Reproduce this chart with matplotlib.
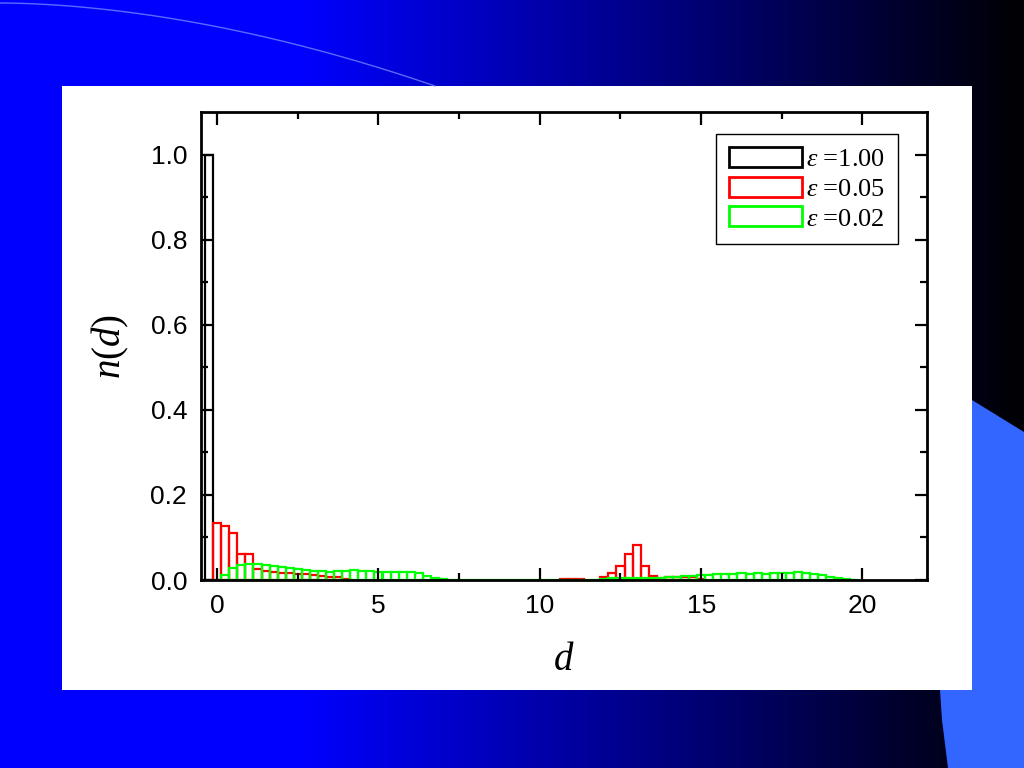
import numpy as np
import matplotlib
matplotlib.use('Agg')
import matplotlib.pyplot as plt
from matplotlib.patches import Rectangle, Polygon

plt.rcParams['mathtext.fontset'] = 'custom'
plt.rcParams['mathtext.it'] = 'Liberation Serif:italic'
plt.rcParams['mathtext.rm'] = 'Liberation Serif'

# Data (bin width 0.25)
black_d = [-0.25]
black_n = [1.0]

red_d = [0.0, 0.25, 0.5, 0.75, 1.0, 1.25, 1.5, 1.75, 2.0, 2.25, 2.5, 2.75, 3.0,
         3.25, 3.5, 3.75, 4.0,
         10.75, 11.0, 11.25,
         12.0, 12.25, 12.5, 12.75, 13.0, 13.25, 13.5, 13.75, 14.0, 14.25, 14.5,
         14.75, 15.0]
red_n = [0.135, 0.128, 0.110, 0.060, 0.060, 0.025, 0.020, 0.018, 0.017, 0.016,
         0.015, 0.013, 0.012, 0.010, 0.008, 0.006, 0.003,
         0.003, 0.003, 0.003,
         0.006, 0.016, 0.033, 0.061, 0.083, 0.033, 0.010, 0.004, 0.006, 0.008,
         0.008, 0.006, 0.003]

green_d = np.arange(0.25, 20.0, 0.25)
green_n = [0.012, 0.028, 0.035, 0.038, 0.038, 0.035, 0.032, 0.030, 0.028, 0.026,
           0.024, 0.022, 0.020, 0.019, 0.020, 0.022, 0.023, 0.022, 0.020, 0.019,
           0.018, 0.018, 0.019, 0.018, 0.016, 0.010, 0.004,
           0.002, 0.001,
           0.001, 0.001, 0.001, 0.001, 0.001, 0.001, 0.001, 0.001, 0.001,
           0.001, 0.001, 0.001, 0.001, 0.001, 0.001, 0.001, 0.001, 0.001,
           0.003, 0.004, 0.004, 0.005, 0.004, 0.005, 0.005, 0.005, 0.006,
           0.008, 0.010, 0.010, 0.011, 0.012, 0.013, 0.014, 0.015, 0.016,
           0.015, 0.016, 0.015, 0.016, 0.017, 0.016, 0.018, 0.016, 0.014,
           0.011, 0.008, 0.005, 0.003, 0.001]

x_ticks = [0, 5, 10, 15, 20]
y_ticks = [0.0, 0.2, 0.4, 0.6, 0.8, 1.0]

fig = plt.figure(figsize=(10.24, 7.68), dpi=100)

# slide background
bg = fig.add_axes([0, 0, 1, 1], zorder=0)
bg.set_xlim(0, 1024)
bg.set_ylim(768, 0)
bg.axis('off')
xs = np.arange(1024)
blue = np.clip(255 - np.clip(xs - 300, 0, None) * (245 / 700), 5, 255)
grad = np.zeros((2, 1024, 3))
grad[:, :, 2] = blue / 255
bg.imshow(grad, extent=[0, 1024, 768, 0], aspect='auto')

# faint arc top-left
t = np.linspace(0, 1, 100)
arc_x = 435 * t
arc_y = 3 + 83 * t ** 1.8
bg.plot(arc_x, arc_y, color='#6f86ff', lw=1, alpha=0.8)

# lighter blue shape on the right
bg.add_patch(Polygon([(940, 380), (972, 400), (1024, 432), (1024, 768),
                      (948, 768), (942, 720), (940, 690)],
                     closed=True, facecolor='#3366ff', edgecolor='none'))

# white panel
bg.add_patch(Rectangle((62, 86), 910, 604, facecolor='white', edgecolor='none'))

ax = fig.add_axes([201 / 1024, 1 - 580 / 768, 726 / 1024, 468 / 768], zorder=2)

ax.bar(black_d, black_n, width=0.25, fill=False, edgecolor='black',
       linewidth=1.6, label=r'$\varepsilon$ =1.00')
ax.bar(red_d, red_n, width=0.25, fill=False, edgecolor='#ff0000',
       linewidth=1.6, label=r'$\varepsilon$ =0.05')
ax.bar(green_d, green_n, width=0.25, fill=False, edgecolor='#00ff00',
       linewidth=1.6, label=r'$\varepsilon$ =0.02')

ax.set_xlim(-0.5, 22)
ax.set_ylim(0, 1.1)
ax.set_xticks(x_ticks)
ax.set_xticks([2.5, 7.5, 12.5, 17.5], minor=True)
ax.set_yticks(y_ticks)
ax.set_yticklabels(['%.1f' % v for v in y_ticks])
ax.set_yticks([0.1, 0.3, 0.5, 0.7, 0.9], minor=True)

for s in ax.spines.values():
    s.set_linewidth(2)
ax.tick_params(which='both', direction='in', top=True, right=True, width=1.6)
ax.tick_params(which='major', length=9, labelsize=19, pad=10)
ax.tick_params(which='minor', length=5)
for lab in ax.get_xticklabels() + ax.get_yticklabels():
    lab.set_fontfamily('Liberation Sans')

ax.set_xlabel(r'$d$', fontsize=28, labelpad=16)
ax.set_ylabel(r'$n(d)$', fontsize=28, labelpad=14)

leg = ax.legend(loc='upper right', bbox_to_anchor=(0.960, 0.953), fancybox=False,
                edgecolor='black', framealpha=1, handlelength=2.75,
                handleheight=0.8, handletextpad=0.15, borderpad=0.5,
                labelspacing=0.2, borderaxespad=0,
                prop={'family': 'Liberation Serif', 'size': 19})
leg.get_frame().set_linewidth(1.0)
for h in leg.legend_handles:
    h.set_linewidth(2)

fig.savefig('out.png', dpi=100)
